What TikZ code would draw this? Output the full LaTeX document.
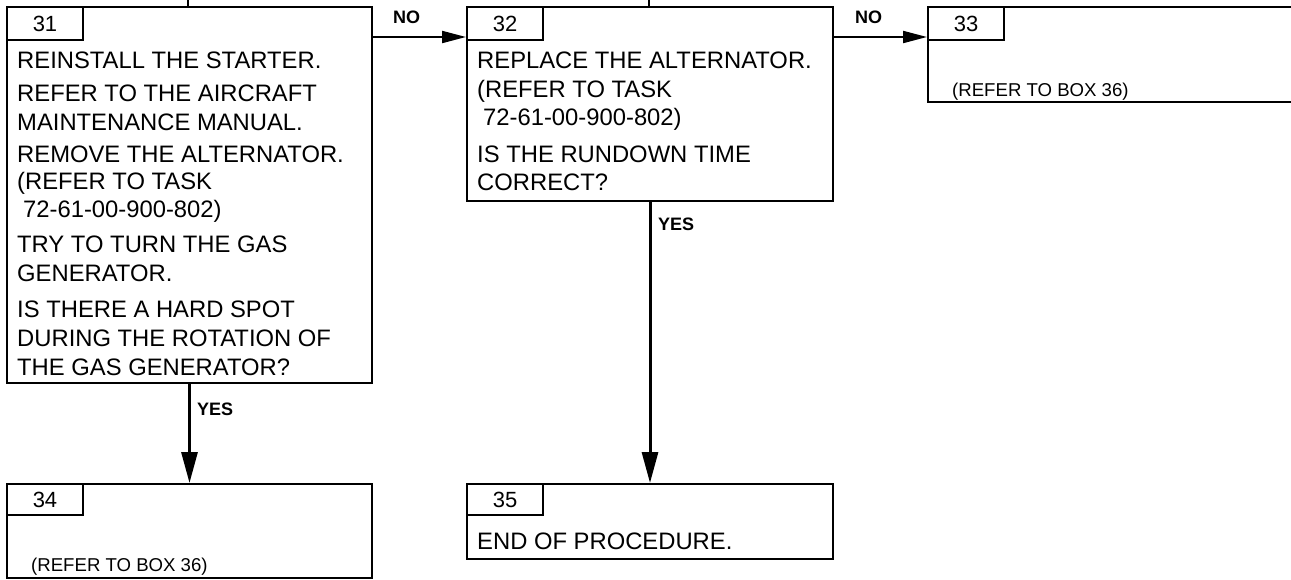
\documentclass[tikz,border=0pt]{standalone}
\usepackage{fontspec}
\setmainfont{Liberation Sans}
\usetikzlibrary{arrows.meta}
\begin{document}
\begin{tikzpicture}[x=1pt,y=-1pt,
  box/.style={draw,line width=2pt,rectangle,inner sep=0pt},
  tab/.style={draw,line width=2pt,rectangle,inner sep=0pt,anchor=north west,
    minimum width=76pt,minimum height=33pt,font=\fontsize{22}{26}\selectfont},
  txt/.style={anchor=base west,inner sep=0pt,font=\fontsize{23.8}{28}\selectfont},
  small/.style={anchor=base west,inner sep=0pt,font=\fontsize{18.6}{22}\selectfont},
  lbl/.style={anchor=base west,inner sep=0pt,font=\fontsize{18}{21}\selectfont\bfseries},
  harrow/.style={line width=2pt,-{Triangle[length=24pt,width=12pt]}},
  varrow/.style={line width=3pt,-{Triangle[length=31pt,width=16pt]}},
  stub/.style={line width=2pt}]
\useasboundingbox (0,0) rectangle (1291,579);
\clip (0,0) rectangle (1291,579);
% boxes
\node[box,minimum width=365pt,minimum height=376pt] (b31) at (189.5,195) {};
\node[box,minimum width=366pt,minimum height=194pt] (b32) at (650,104) {};
\node[box,minimum width=372pt,minimum height=95pt] (b33) at (1114,54.5) {};
\node[box,minimum width=365pt,minimum height=94pt] (b34) at (189.5,531) {};
\node[box,minimum width=366pt,minimum height=75pt] (b35) at (650,521.5) {};
% tabs
\node[tab] (n31) at (b31.north west) {31};
\node[tab] (n32) at (b32.north west) {32};
\node[tab] (n33) at (b33.north west) {33};
\node[tab,minimum height=31pt] (n34) at (b34.north west) {34};
\node[tab,minimum height=31pt] (n35) at (b35.north west) {35};
% box 31 text
\node[txt] (t31a) at (17,68) {REINSTALL THE STARTER.};
\node[txt] (t31b) at (17,101) {REFER TO THE AIRCRAFT};
\node[txt] (t31c) at (17,130) {MAINTENANCE MANUAL.};
\node[txt] (t31d) at (17,162) {REMOVE THE ALTERNATOR.};
\node[txt] (t31e) at (17,189) {(REFER TO TASK};
\node[txt] (t31f) at (23,217) {72-61-00-900-802)};
\node[txt] (t31g) at (17,252) {TRY TO TURN THE GAS};
\node[txt] (t31h) at (17,281) {GENERATOR.};
\node[txt] (t31i) at (17,317) {IS THERE A HARD SPOT};
\node[txt] (t31j) at (17,346) {DURING THE ROTATION OF};
\node[txt] (t31k) at (17,375) {THE GAS GENERATOR?};
% box 32 text
\node[txt] (t32a) at (477,68) {REPLACE THE ALTERNATOR.};
\node[txt] (t32b) at (477,97) {(REFER TO TASK};
\node[txt] (t32c) at (483,125) {72-61-00-900-802)};
\node[txt] (t32d) at (477,162) {IS THE RUNDOWN TIME};
\node[txt] (t32e) at (477,190) {CORRECT?};
% other texts
\node[small] (t33) at (952,96) {(REFER TO BOX 36)};
\node[small] (t34) at (31,571) {(REFER TO BOX 36)};
\node[txt] (t35) at (477,549) {END OF PROCEDURE.};
% labels
\node[lbl] (no1) at (393,23) {NO};
\node[lbl] (no2) at (855,23) {NO};
\node[lbl] (yes1) at (197,415) {YES};
\node[lbl] (yes2) at (658,230) {YES};
% connectors
\draw[harrow] ([yshift=-31pt]b31.north east) -- ([yshift=-31pt]b32.north west);
\draw[harrow] ([yshift=-31pt]b32.north east) -- ([yshift=-31pt]b33.north west);
\draw[varrow] (b31.south) -- (b34.north);
\draw[varrow] (b32.south) -- (b35.north);
% incoming stubs from above
\coordinate (s31) at (188,0);
\coordinate (s32) at (649,0);
\draw[stub] (s31) -- (s31 |- b31.north);
\draw[stub] (s32) -- (s32 |- b32.north);
\end{tikzpicture}
\end{document}
